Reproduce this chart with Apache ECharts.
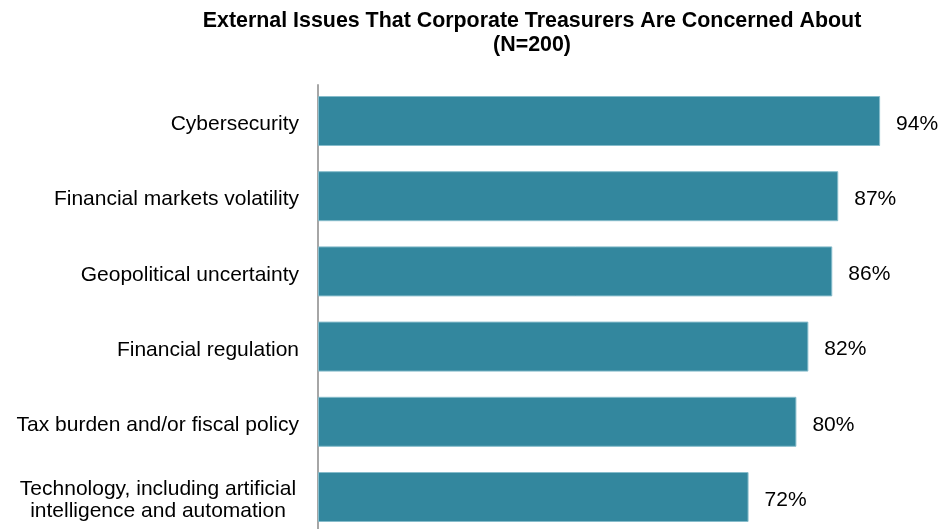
<!DOCTYPE html>
<html>
<head>
<meta charset="utf-8">
<script src="https://cdn.jsdelivr.net/npm/echarts@6/dist/echarts.min.js"></script>
<style>
  html, body { margin: 0; padding: 0; background: #ffffff; }
  #chart { width: 943px; height: 529px; }
</style>
</head>
<body>
<div id="chart"></div>
<script>
// Survey: share of treasurers concerned about each external issue
const categories = [
  'Cybersecurity',
  'Financial markets volatility',
  'Geopolitical uncertainty',
  'Financial regulation',
  'Tax burden and/or fiscal policy',
  'Technology, including artificial\nintelligence and automation'
];
const shares = [94, 87, 86, 82, 80, 72];
const titleLines = [
  'External Issues That Corporate Treasurers Are Concerned About',
  '(N=200)'
];

const FONT = 'Liberation Sans, Arial, sans-serif';

const chart = echarts.init(document.getElementById('chart'), null, { renderer: 'canvas' });

chart.setOption({
  backgroundColor: '#ffffff',
  animation: false,
  // Two-line heading, centred over the plotting area
  graphic: [{
    type: 'text',
    x: 532,
    y: 9,
    style: {
      text: titleLines.join('\n'),
      font: 'bold 21.4px ' + FONT,
      fill: '#000000',
      align: 'center',
      textAlign: 'center',
      verticalAlign: 'top',
      textVerticalAlign: 'top',
      lineHeight: 24
    }
  }],
  grid: [
    // bars: category ticks sit on the bar centres
    { left: 318, right: 27, top: 121, bottom: 32, containLabel: false },
    // full-height vertical baseline running to the bottom edge
    { left: 318, right: 27, top: 85, bottom: 0, containLabel: false }
  ],
  xAxis: [
    { type: 'value', gridIndex: 0, min: 0, max: 100, show: false },
    { type: 'value', gridIndex: 1, min: 0, max: 100, show: false }
  ],
  yAxis: [
    {
      type: 'category',
      gridIndex: 0,
      inverse: true,
      boundaryGap: false,
      data: categories,
      axisLine: { show: false },
      axisTick: { show: false },
      splitLine: { show: false },
      axisLabel: {
        margin: 19,
        padding: [7, 0, 0, 0],
        fontFamily: FONT,
        fontSize: 21,
        color: '#000000',
        lineHeight: 22,
        formatter: function (value) {
          // multi-line labels: lines centred on each other, block right-aligned
          if (value.indexOf('\n') >= 0) {
            return value.split('\n').map(function (l) { return '{c|' + l + '}'; }).join('\n');
          }
          return value;
        },
        rich: {
          c: {
            width: 282,
            align: 'center',
            fontFamily: FONT,
            fontSize: 21,
            color: '#000000',
            lineHeight: 22
          }
        }
      }
    },
    {
      type: 'value',
      gridIndex: 1,
      min: 0,
      max: 1,
      axisLine: { show: true, onZero: false, lineStyle: { color: '#a6a6a6', width: 2 } },
      axisTick: { show: false },
      axisLabel: { show: false },
      splitLine: { show: false }
    }
  ],
  series: [{
    type: 'bar',
    xAxisIndex: 0,
    yAxisIndex: 0,
    data: shares,
    barWidth: 50,
    clip: false,
    itemStyle: {
      color: '#33879e',
      borderColor: '#86bccb',
      borderWidth: 1
    },
    label: {
      show: true,
      position: 'right',
      distance: 16,
      offset: [0, 3],
      formatter: '{c}%',
      fontFamily: FONT,
      fontSize: 21,
      color: '#000000'
    }
  }]
});
</script>
</body>
</html>
